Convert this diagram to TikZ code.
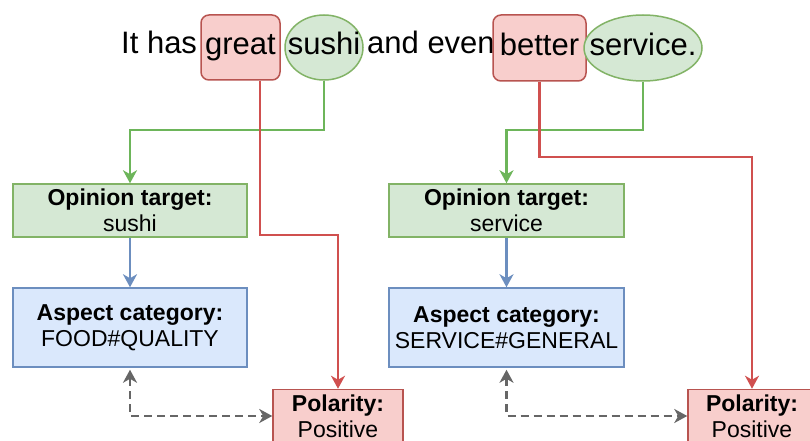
\documentclass[tikz,border=0pt]{standalone}
\usepackage{fontspec}
\setmainfont{Liberation Sans}
\usetikzlibrary{shapes.geometric,arrows.meta}
\definecolor{gfill}{HTML}{D5E8D4}\definecolor{gline}{HTML}{82B366}
\definecolor{bfill}{HTML}{DAE8FC}\definecolor{bline}{HTML}{6C8EBF}
\definecolor{rfill}{HTML}{F8CECC}\definecolor{rline}{HTML}{B85450}
\definecolor{rarrow}{HTML}{D0504F}\definecolor{garrow}{HTML}{6DB55A}
\definecolor{grey}{HTML}{666666}
\tikzset{
  sent/.style={font=\fontsize{31}{37}\selectfont, text height=22pt, text depth=7pt, inner sep=0pt},
  wbox/.style={sent, draw=rline, fill=rfill, line width=1.5pt, rounded corners=8pt, align=center},
  well/.style={ellipse, draw=gline, fill=gfill, line width=1.5pt, inner sep=0pt,
     label={[sent]center:#1}},
  infobox/.style={font=\fontsize{23}{26}\selectfont, align=center, line width=1.5pt, inner sep=0pt},
  otbox/.style={infobox, draw=gline, fill=gfill, minimum height=53pt},
  acbox/.style={infobox, draw=bline, fill=bfill, minimum height=79pt},
  polbox/.style={infobox, draw=rline, fill=rfill, minimum height=53pt},
  arr/.style={line width=2.4pt, -{Stealth[length=13pt,width=14pt,inset=4pt]}},
  garr/.style={arr, draw=garrow},
  rarr/.style={arr, draw=rarrow},
  barr/.style={arr, draw=bline},
  darr/.style={line width=2.4pt, draw=grey, dash pattern=on 8pt off 5pt,
     {Stealth[length=13pt,width=14pt,inset=4pt]}-{Stealth[length=13pt,width=14pt,inset=4pt]}},
}
\begin{document}
\begin{tikzpicture}[x=1pt,y=-1pt]
\useasboundingbox (0,0) rectangle (810,441);
\clip (0,0) rectangle (810,441);
\fill[white] (0,0) rectangle (810,441);
% sentence
\node[sent, anchor=base west] (it) at (121,54) {It has};
\node[wbox, minimum width=79pt, minimum height=65pt] (great) at (240.5,47.5) {great};
\node[well=sushi, minimum width=78pt, minimum height=65pt] (sushi) at (324,47.5) {};
\node[sent, anchor=base west] (and) at (367,54) {and even};
\node[wbox, minimum width=93pt, minimum height=66pt] (better) at (539.5,48) {better};
\node[well=service., minimum width=118pt, minimum height=66pt] (service) at (643,48) {};
% boxes
\node[otbox, minimum width=234pt] (ot1) at (130,210.5) {\textbf{Opinion target:}\\sushi};
\node[acbox, minimum width=234pt] (ac1) at (130,327.5) {\textbf{Aspect category:}\\FOOD\#QUALITY};
\node[polbox, minimum width=130pt] (pol1) at (338,416) {\textbf{Polarity:}\\Positive};
\node[otbox, minimum width=235pt] (ot2) at (506.5,210.5) {\textbf{Opinion target:}\\service};
\node[acbox, minimum width=235pt] (ac2) at (506.5,327.5) {\textbf{Aspect category:}\\SERVICE\#GENERAL};
\node[polbox, minimum width=128pt] (pol2) at (752,416) {\textbf{Polarity:}\\Positive};
% bend levels
\coordinate (g1) at (0,130);
\coordinate (r1) at (260,235);
\coordinate (r2) at (0,157);
% connectors
\draw[garr] (sushi.south) -- (sushi.south |- g1) -| (ot1.north);
\draw[rarr] (great.south -| r1) -- (r1) -| (pol1.north);
\draw[barr] (ot1.south) -- (ac1.north);
\draw[darr, shorten <=2pt] (ac1.south) |- (pol1.west);
\draw[garr] (service.south) -- (service.south |- g1) -| (ot2.north);
\draw[rarr] (better.south) -- (better.south |- r2) -| (pol2.north);
\draw[barr] (ot2.south) -- (ac2.north);
\draw[darr, shorten <=2pt] (ac2.south) |- (pol2.west);
\end{tikzpicture}
\end{document}
